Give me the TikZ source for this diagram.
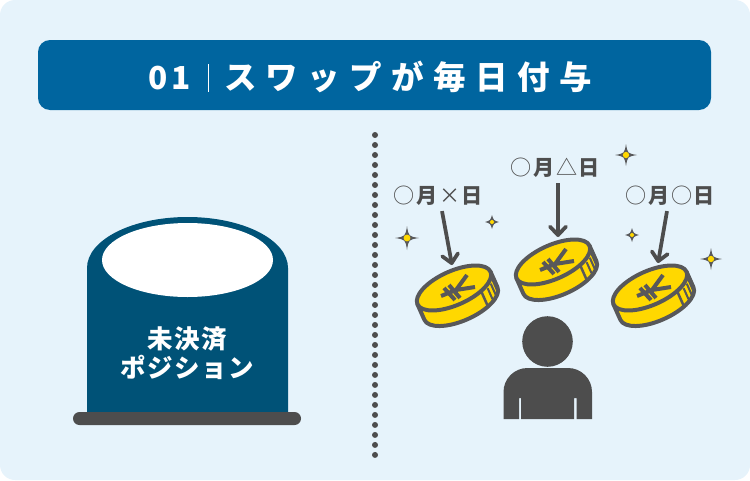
\documentclass[tikz,border=0pt]{standalone}
\usepackage{fontspec}
\usetikzlibrary{arrows.meta,calc}
\newfontfamily\jpfont{Noto Sans CJK JP}
\definecolor{bgC}{HTML}{E6F3FB}
\definecolor{headC}{HTML}{00659F}
\definecolor{tankC}{HTML}{005277}
\definecolor{darkC}{HTML}{4D4D4D}
\definecolor{edgeC}{HTML}{58585A}
\definecolor{coinC}{HTML}{FFD800}
\tikzset{
	x=.02cm,y=-.02cm,
	headtext/.style={text=white,font=\jpfont\bfseries\fontsize{18.5}{20}\selectfont\addfontfeature{LetterSpace=29},inner sep=0},
	numtext/.style={text=white,font=\jpfont\bfseries\fontsize{18}{20}\selectfont\addfontfeature{LetterSpace=10},inner sep=0},
	tanktext/.style={text=white,font=\jpfont\bfseries\fontsize{14.5}{16.5}\selectfont\addfontfeature{LetterSpace=6},align=center,inner sep=0},
	daytext/.style={text=darkC,font=\jpfont\fontsize{12}{14}\selectfont\addfontfeature{LetterSpace=8},inner sep=0},
	fallarrow/.style={draw=darkC,line width=.075cm,-{Straight Barb[length=.17cm,width=.32cm,line width=.075cm,round]}},
	coin/.pic={
		\begin{scope}[rotate=24,line width=.08cm,draw=edgeC,line join=round]
			\filldraw[fill=coinC] (-40,0) -- (-40,17) arc (180:0:40 and 17) -- (40,0) -- cycle;
			\foreach \g in {16,28,40} \draw[line width=.04cm] ({40*cos(\g)},{17*sin(\g)+3}) -- ++(0,12);
			\draw[line width=.05cm] ({40*cos(54)},{17*sin(54)}) -- ++(0,17);
			\filldraw[fill=coinC] (0,0) ellipse (40 and 17);
		\end{scope}
		\draw[edgeC,line width=.08cm] (13,-13) -- (2,2) -- (21,-1) (2,2) -- (-13,8) (-5,-3) -- (6,10) (-10,0) -- (1,12);
	},
	sparkle/.pic={
		\fill[edgeC] (0,-#1) .. controls (1.6,-1.6) .. (#1,0) .. controls (1.6,1.6) .. (0,#1) .. controls (-1.6,1.6) .. (-#1,0) .. controls (-1.6,-1.6) .. (0,-#1) -- cycle;
		\fill[coinC] (0,0) circle ({#1/3.5});
	},
}
\newcommand{\dayLabel}[1]{\textbf{月}#1\textbf{日}}
\begin{document}
\begin{tikzpicture}
	\useasboundingbox (0,0) rectangle (750,480);
	\fill[bgC,rounded corners=.3cm] (0,0) rectangle (750,480);
	\fill[headC,rounded corners=.24cm] (38,40) rectangle (711,110);
	\node[numtext] (num) at (169.5,78) {01};
	\draw[white,line width=.02cm] (208,64) coordinate (barT) -- (208,92) coordinate (barB);
	\node[headtext] (title) at (408,77) {スワップが毎日付与};
	% tank
	\fill[tankC] (87,413) -- (87,268) arc (180:360:100.5 and 51) -- (288,413) -- cycle;
	\fill[white] (187.5,260) ellipse (85.5 and 37);
	\fill[darkC,rounded corners=.13cm] (73,412) rectangle (301,425);
	\node[tanktext] (tank) at (187,353) {未決済\\ポジション};
	% divider
	\draw[darkC,line width=.12cm,line cap=round,dash pattern=on 0pt off .2cm] (375,135) coordinate (divT) -- (375,459) coordinate (divB);
	% coins
	\path (454,288) pic {coin} (553,262) pic {coin} (650,288) pic {coin};
	\foreach \x/\y/\s in {407/238/12,492/222/7,626/155/11,632/235/7,711/259/11} \path (\x,\y) pic {sparkle=\s};
	% labels
	\node[daytext] (dayA) at (439,196) {○\dayLabel{×}};
	\node[daytext] (dayB) at (556,168) {○\dayLabel{△}};
	\node[daytext] (dayC) at (671,196) {○\dayLabel{○}};
	\coordinate (tipA) at (452,265);
	\coordinate (tipB) at (558,237);
	\coordinate (tipC) at (658,263);
	\draw[fallarrow] ($(dayA.south)+(3,5)$) -- (tipA);
	\draw[fallarrow] ($(dayB.south)+(2,5)$) -- (tipB);
	\draw[fallarrow] ($(dayC.south)+(-4,5)$) -- (tipC);
	% person
	\fill[darkC] (547.5,341.5) circle (25.3);
	\fill[darkC] (503.5,419) -- (503.5,392) arc (180:270:24) -- (568,368) arc (-90:0:24) -- (592,419) -- (576.5,419) -- (576.5,398) -- (574,398) -- (574,419) -- (521,419) -- (521,398) -- (519,398) -- (519,419) -- cycle;
\end{tikzpicture}
\end{document}
